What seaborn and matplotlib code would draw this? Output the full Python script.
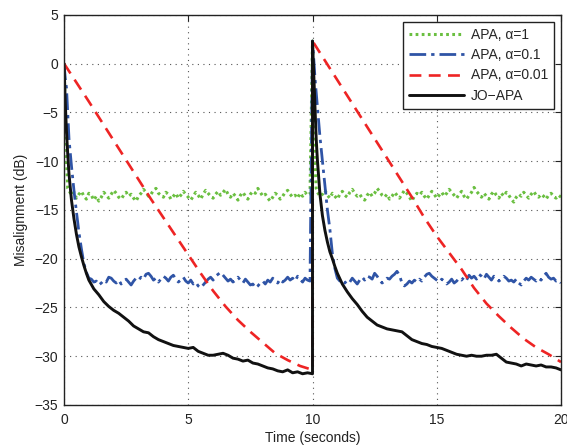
import numpy as np
import pandas as pd
import matplotlib
matplotlib.use("Agg")
import matplotlib.pyplot as plt
import seaborn as sns

# ---------------- data ----------------
# APA, alpha=1 (green)
green_start_t = [0.0, 0.05, 0.1, 0.15]
green_start_v = [0.0, -5.0, -10.0, -12.8]
green_level1 = [
    -13.0, -13.5, -13.2, -13.8, -13.4, -13.1, -13.6, -13.9, -13.3, -13.5,
    -14.0, -13.6, -14.1, -13.7, -13.2, -13.5, -13.8, -13.4, -13.0, -13.3,
    -13.7, -13.9, -13.5, -13.2, -13.6, -13.4, -13.8, -14.1, -13.6, -13.3,
    -12.9, -13.2, -13.6, -13.4, -13.0, -12.8, -13.3, -13.5, -13.7, -13.2,
    -13.4, -13.9, -13.6, -13.3, -13.8, -13.5, -13.1, -13.4, -13.7, -14.0,
    -13.6, -13.2, -13.5, -13.9, -13.4, -13.0, -13.3, -13.6, -13.8, -13.4,
    -13.1, -13.5, -13.2, -12.9, -13.4, -13.7, -13.3, -13.6, -14.0, -13.5,
    -13.2, -13.6, -13.9, -13.4, -13.1, -13.3, -12.8, -13.2, -13.6, -13.4,
    -13.8, -14.1, -13.7, -13.3, -13.5, -13.9, -13.6, -13.2, -13.0, -13.4,
    -13.7, -13.5, -13.8, -13.3, -13.6, -13.2, -13.5, -13.4]
green_jump_t = [10.0, 10.05, 10.1, 10.15]
green_jump_v = [2.3, -4.0, -10.0, -12.8]
green_level2 = [
    -13.2, -13.6, -13.4, -13.0, -13.5, -13.8, -13.3, -13.6, -13.9, -13.4,
    -13.1, -13.5, -13.7, -13.2, -12.9, -13.3, -13.6, -13.4, -13.8, -14.0,
    -13.5, -13.2, -13.6, -13.3, -12.8, -13.1, -13.5, -13.7, -13.4, -13.9,
    -13.6, -13.2, -13.5, -13.8, -13.4, -13.0, -13.3, -13.7, -14.1, -13.6,
    -13.3, -13.5, -13.2, -13.6, -13.9, -13.5, -13.1, -13.4, -13.8, -13.5,
    -13.2, -13.6, -13.3, -12.9, -13.2, -13.5, -13.8, -13.4, -13.1, -13.6,
    -13.9, -13.5, -13.2, -12.7, -13.1, -13.4, -13.7, -13.3, -13.6, -13.9,
    -13.4, -13.1, -13.5, -13.8, -13.3, -13.6, -13.2, -13.5, -13.9, -14.2,
    -13.7, -13.4, -13.6, -13.2, -13.5, -13.8, -13.4, -13.1, -13.5, -13.7,
    -13.4, -13.6, -13.9, -13.5, -13.3, -13.6, -13.8, -13.5, -13.7]

# APA, alpha=0.1 (blue)
blue_start_t = [0.0, 0.05, 0.1, 0.15, 0.2, 0.3, 0.4, 0.5, 0.6, 0.7, 0.8, 0.9, 1.0]
blue_start_v = [0.0, -1.5, -2.5, -5.0, -7.7, -10.5, -13.0, -15.2, -17.3, -19.0, -20.5, -21.4, -22.0]
blue_level1 = [
    -22.1, -22.4, -22.3, -22.7, -22.5, -22.2, -22.4, -21.9, -22.0, -22.3,
    -22.5, -22.2, -22.6, -22.3, -22.1, -22.4, -22.7, -22.3, -22.0, -22.2,
    -21.9, -22.1, -21.6, -21.5, -21.8, -22.2, -22.0, -22.4, -22.1, -21.8,
    -22.0, -22.3, -21.9, -21.7, -22.1, -22.4, -22.2, -21.9, -22.3, -22.5,
    -22.2, -22.6, -22.4, -22.8, -23.0, -22.7, -22.4, -22.1, -21.9, -22.2,
    -21.8, -21.6, -21.4, -21.7, -22.0, -22.3, -22.1, -22.4, -22.2, -21.9,
    -22.2, -22.5, -22.1, -22.4, -22.7, -22.6, -23.0, -22.8, -22.5, -22.3,
    -22.6, -22.2, -22.4, -22.0, -22.3, -22.5, -22.1, -22.4, -22.2, -21.9,
    -22.2, -22.0, -22.3, -21.8, -22.1, -22.4, -22.0, -22.2, -22.3]
blue_jump_t = [10.0, 10.05, 10.1, 10.2, 10.3, 10.4, 10.5, 10.6, 10.7, 10.8, 10.9, 11.0]
blue_jump_v = [2.3, 0.5, -1.5, -4.5, -7.5, -10.0, -12.5, -15.0, -17.0, -19.5, -21.0, -22.0]
blue_level2 = [
    -22.3, -22.1, -22.5, -22.2, -22.4, -22.0, -22.3, -22.6, -22.2, -21.9,
    -22.2, -21.8, -21.9, -22.1, -21.5, -21.8, -22.2, -22.5, -22.3, -22.0,
    -22.1, -21.8, -21.6, -21.3, -21.7, -22.5, -22.8, -22.6, -22.3, -22.5,
    -22.2, -22.4, -22.1, -22.3, -21.9, -21.6, -21.5, -21.8, -22.0, -22.2,
    -22.4, -22.1, -22.3, -22.6, -22.4, -22.1, -22.5, -22.3, -22.0, -22.2,
    -21.9, -22.2, -21.7, -22.0, -21.8, -22.1, -21.6, -21.8, -22.1, -21.6,
    -21.9, -22.2, -21.8, -22.0, -22.3, -22.1, -21.8, -22.0, -22.3, -22.2,
    -22.4, -22.1, -22.5, -22.7, -22.3, -22.0, -22.2, -21.9, -22.1, -22.3,
    -22.0, -22.2, -21.8, -21.5, -21.9, -22.1, -22.0, -22.3, -22.2, -22.5]

# APA, alpha=0.01 (red)
red_t = [0.0, 0.5, 1.0, 1.5, 2.0, 2.5, 3.0, 3.5, 4.0, 4.5, 5.0, 5.5, 6.0, 6.5, 7.0,
         7.5, 8.0, 8.5, 9.0, 9.5, 10.0,
         10.0, 10.5, 11.0, 11.5, 12.0, 12.5, 13.0, 13.5, 14.0, 14.5, 15.0, 15.5,
         16.0, 16.5, 17.0, 17.5, 18.0, 18.5, 19.0, 19.5, 20.0]
red_v = [0.0, -1.95, -3.9, -5.9, -7.9, -9.9, -11.9, -13.9, -15.8, -17.7, -19.6, -21.5,
         -23.3, -24.9, -26.3, -27.5, -28.6, -29.7, -30.4, -31.0, -31.4,
         2.3, 0.3, -1.7, -3.7, -5.7, -7.7, -9.7, -11.7, -13.7, -15.8, -17.7, -19.4,
         -21.1, -23.0, -24.6, -25.9, -27.1, -28.2, -29.1, -29.8, -30.6]

# JO-APA (black)
black_t = [0.0, 0.05, 0.1, 0.15, 0.2, 0.3, 0.4, 0.5, 0.6, 0.7, 0.8, 0.9, 1.0,
           1.2, 1.4, 1.6, 1.8, 2.0, 2.2, 2.4, 2.6, 2.8, 3.0, 3.2, 3.4, 3.6, 3.8,
           4.0, 4.2, 4.4, 4.6, 4.8, 5.0, 5.2, 5.4, 5.6, 5.8, 6.0, 6.2, 6.4, 6.6,
           6.8, 7.0, 7.2, 7.4, 7.6, 7.8, 8.0, 8.2, 8.4, 8.6, 8.8, 9.0, 9.2, 9.4,
           9.6, 9.8, 10.0,
           10.0, 10.05, 10.1, 10.15, 10.2, 10.3, 10.4, 10.5, 10.6, 10.7, 10.8,
           10.9, 11.0, 11.2, 11.4, 11.6, 11.8, 12.0, 12.2, 12.4, 12.6, 12.8, 13.0,
           13.2, 13.4, 13.6, 13.8, 14.0, 14.2, 14.4, 14.6, 14.8, 15.0, 15.2, 15.4,
           15.6, 15.8, 16.0, 16.2, 16.4, 16.6, 16.8, 17.0, 17.2, 17.4, 17.6, 17.8,
           18.0, 18.2, 18.4, 18.6, 18.8, 19.0, 19.2, 19.4, 19.6, 19.8, 20.0]
black_v = [0.0, -4.0, -7.0, -9.3, -11.3, -14.0, -15.9, -17.5, -18.8, -19.8, -20.7,
           -21.5, -22.2, -23.1, -23.7, -24.4, -24.9, -25.3, -25.6, -26.0, -26.4,
           -26.9, -27.2, -27.5, -27.6, -28.0, -28.3, -28.5, -28.7, -28.9, -29.0,
           -29.1, -29.2, -29.1, -29.5, -29.7, -29.9, -29.9, -29.8, -29.7, -29.9,
           -30.2, -30.3, -30.5, -30.4, -30.7, -30.8, -31.0, -31.2, -31.3, -31.5,
           -31.6, -31.4, -31.7, -31.6, -31.8, -31.7, -31.8,
           2.3, -1.0, -4.5, -7.8, -10.0, -13.4, -15.6, -17.1, -18.3, -19.3, -20.0,
           -20.8, -21.5, -22.6, -23.4, -24.1, -24.7, -25.4, -26.0, -26.4, -26.8,
           -27.0, -27.2, -27.3, -27.4, -27.5, -27.9, -28.3, -28.5, -28.7, -28.8,
           -29.0, -29.1, -29.2, -29.4, -29.6, -29.8, -29.9, -30.0, -29.9, -30.0,
           -30.0, -29.9, -29.9, -29.8, -30.2, -30.6, -30.7, -30.8, -31.0, -30.8,
           -30.9, -31.0, -30.9, -31.1, -31.1, -31.2, -31.4]

labels = ["APA, \u03b1=1", "APA, \u03b1=0.1", "APA, \u03b1=0.01", "JO\u2212APA"]
x_ticks = [0, 5, 10, 15, 20]
y_ticks = [5, 0, -5, -10, -15, -20, -25, -30, -35]

# ---------------- build tables ----------------
green_t = np.concatenate([green_start_t,
                          np.linspace(0.2, 9.9, len(green_level1)),
                          green_jump_t,
                          np.linspace(10.2, 20.0, len(green_level2))])
green_v = np.concatenate([green_start_v, green_level1, green_jump_v, green_level2])
blue_t = np.concatenate([blue_start_t,
                         np.linspace(1.1, 9.9, len(blue_level1)),
                         blue_jump_t,
                         np.linspace(11.1, 20.0, len(blue_level2))])
blue_v = np.concatenate([blue_start_v, blue_level1, blue_jump_v, blue_level2])

series = [
    (pd.DataFrame({"t": green_t, "v": green_v}), labels[0], "#6abf40", (0, (0.9, 1.1)), 2.2),
    (pd.DataFrame({"t": blue_t, "v": blue_v}), labels[1], "#2f54a6", (0, (6, 1.8, 1.2, 1.8)), 2.0),
    (pd.DataFrame({"t": red_t, "v": red_v}), labels[2], "#ee2424", (0, (4.5, 2.8)), 1.9),
    (pd.DataFrame({"t": black_t, "v": black_v}), labels[3], "#111111", "-", 2.1),
]

# ---------------- plot ----------------
sns.set_style("white")
plt.rcParams["font.family"] = ["Liberation Sans", "DejaVu Sans"]
plt.rcParams["axes.unicode_minus"] = True

fig = plt.figure(figsize=(5.67, 4.45), dpi=100)
ax = fig.add_axes([0.1129, 0.0899, 0.8765, 0.877])

for df, lab, col, ls, lw in series:
    sns.lineplot(data=df, x="t", y="v", ax=ax, color=col, linestyle=ls,
                 linewidth=lw, label=lab, sort=False, estimator=None)

ax.set_xlim(0, 20)
ax.set_ylim(-35, 5)
ax.set_xticks(x_ticks)
ax.set_yticks(y_ticks)
ax.tick_params(direction="in", top=True, right=True, length=4, width=0.8,
               labelsize=10, colors="#222222", pad=4)
ax.tick_params(axis="x", pad=6)
ax.grid(True, color="#555555", linestyle=(0, (1, 4)), linewidth=0.8)
for s in ax.spines.values():
    s.set_color("#222222")
    s.set_linewidth(1.0)
    s.set_visible(True)
ax.set_xlabel("Time (seconds)", fontsize=10, labelpad=3, color="#222222")
ax.set_ylabel("Misalignment (dB)", fontsize=10, labelpad=5, color="#222222")

leg = ax.legend(loc="upper right", fontsize=10, frameon=True, fancybox=False,
                edgecolor="#222222", framealpha=1, handlelength=3.9,
                borderaxespad=0.5, labelspacing=0.45, handletextpad=0.5,
                borderpad=0.45)
leg.get_frame().set_linewidth(1.0)

fig.savefig("out.png", dpi=100)
